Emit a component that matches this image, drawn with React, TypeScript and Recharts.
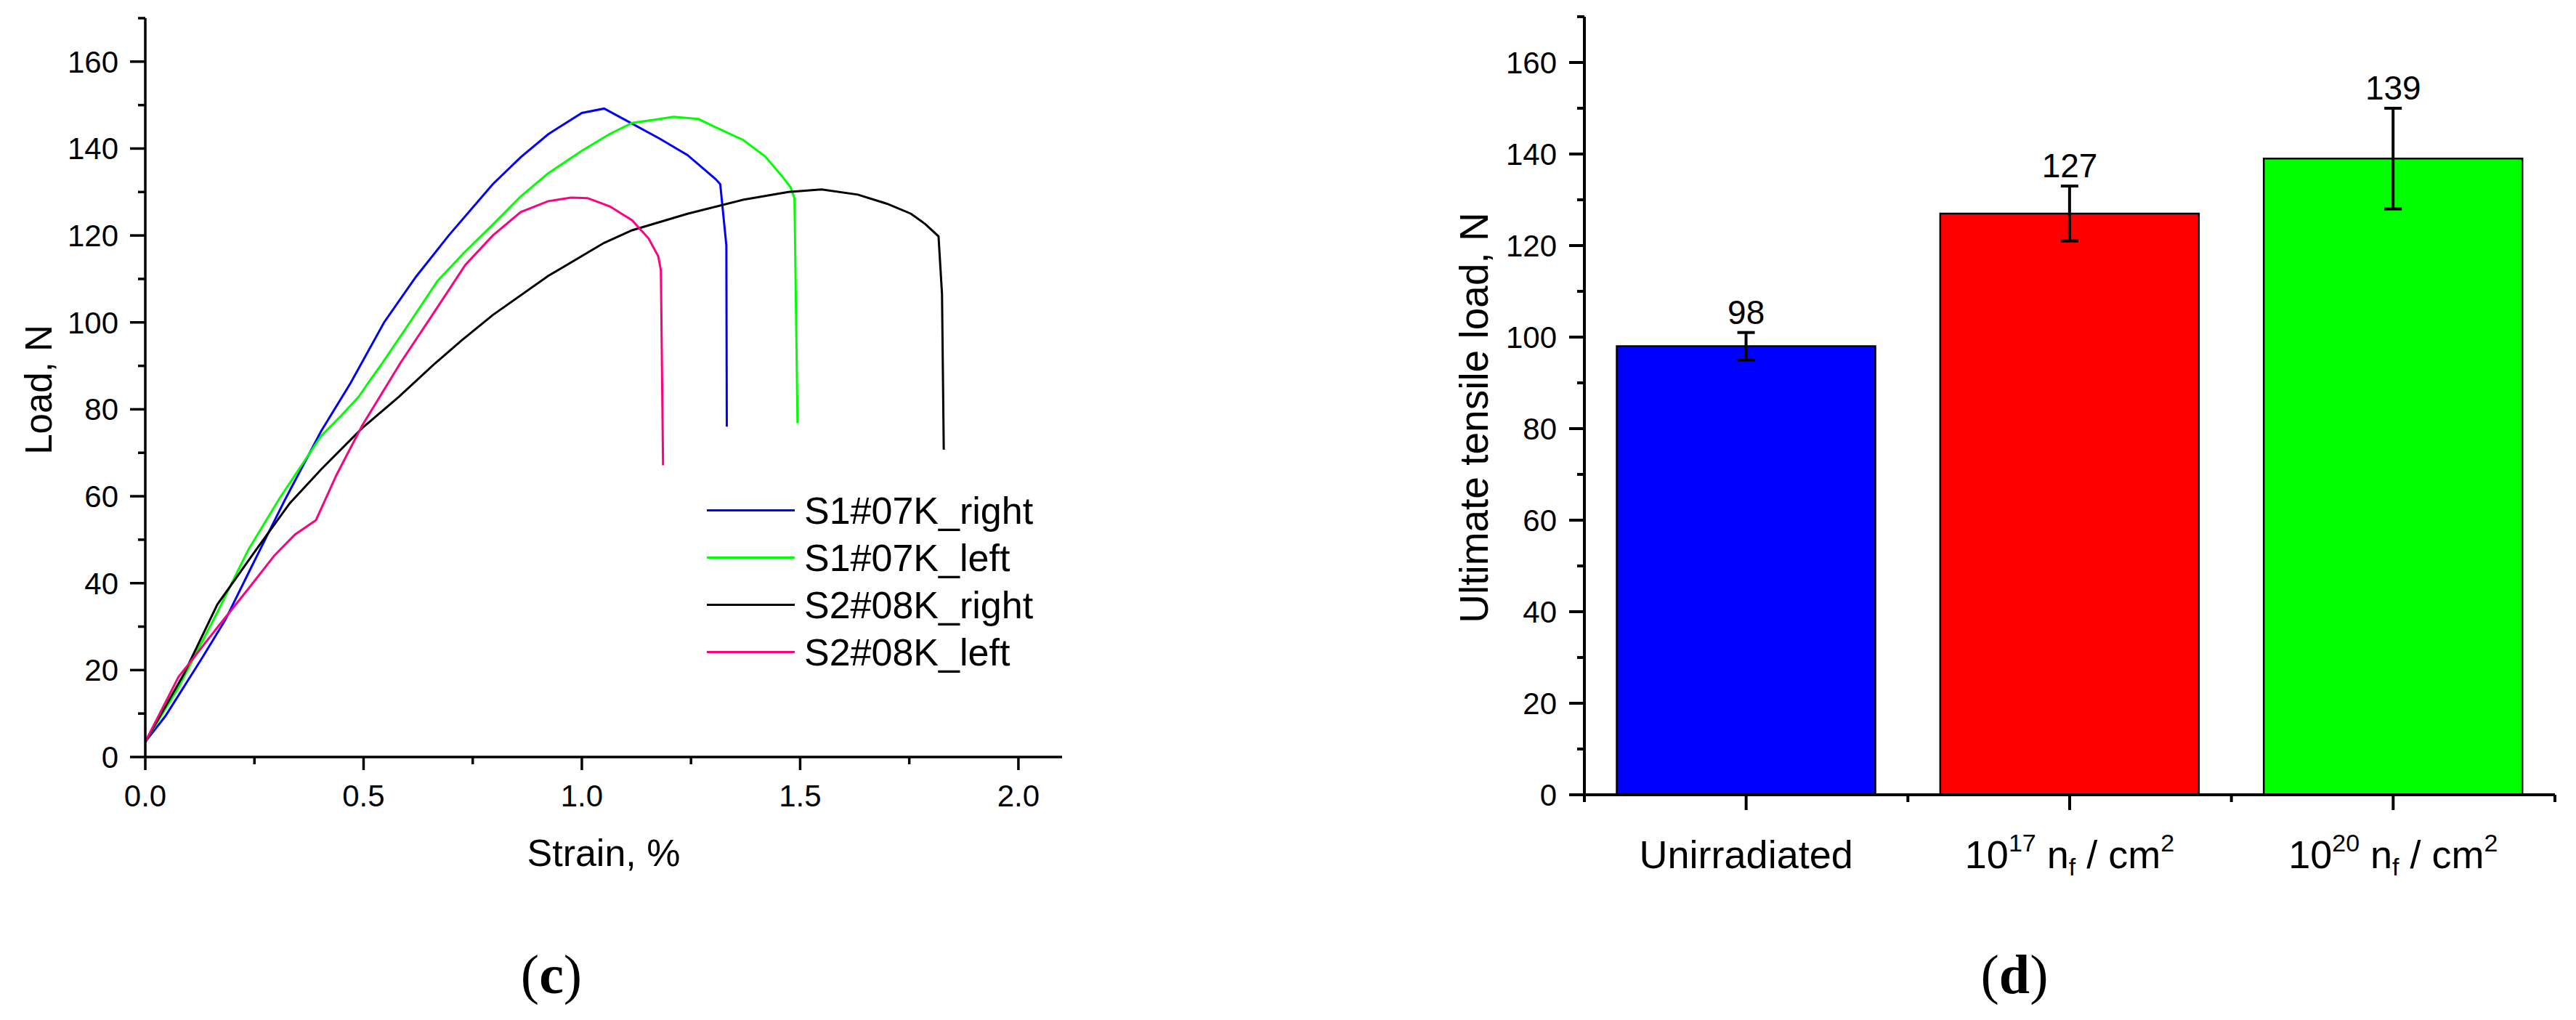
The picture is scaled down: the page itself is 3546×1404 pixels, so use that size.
import { LineChart, Line, XAxis, YAxis, Legend, ComposedChart, Bar, Cell, ErrorBar, LabelList, Label } from 'recharts'

const FONT = '"Liberation Sans", Arial, sans-serif'
const SERIF = '"Liberation Serif", "Times New Roman", serif'

// panel (c): [strain %, load N]
const s1RightCurve = [
  [0, 3.5], [0.046, 9.4], [0.129, 22.6], [0.183, 31.5], [0.242, 43.5], [0.319, 59], [0.403, 75],
  [0.47, 86], [0.547, 100], [0.62, 110.5], [0.695, 120], [0.796, 131.8], [0.86, 138], [0.923, 143.3],
  [1.0, 148.2], [1.051, 149.2], [1.101, 146.5], [1.178, 142.3], [1.242, 138.5], [1.306, 133],
  [1.317, 131.8], [1.331, 117.7], [1.332, 76],
]
const s1LeftCurve = [
  [0, 3.5], [0.076, 16], [0.165, 33.3], [0.236, 47.7], [0.308, 59.6], [0.403, 73.9], [0.45, 78.7],
  [0.489, 82.9], [0.51, 86], [0.542, 90.5], [0.606, 100], [0.669, 109.5], [0.73, 116], [0.796, 122.5],
  [0.86, 129], [0.923, 134.3], [1.0, 139.5], [1.063, 143.3], [1.115, 145.9], [1.178, 146.8], [1.21, 147.3],
  [1.267, 146.8], [1.306, 144.9], [1.369, 142], [1.42, 138.2], [1.458, 133.7], [1.478, 131.1],
  [1.487, 128.6], [1.494, 76.8],
]
const s2RightCurve = [
  [0, 3.5], [0.088, 19], [0.165, 35.1], [0.254, 47.7], [0.331, 58.4], [0.403, 66.2], [0.497, 75.7],
  [0.581, 82.9], [0.664, 90.6], [0.725, 95.9], [0.796, 101.7], [0.923, 110.7], [1.051, 118.3],
  [1.115, 121.2], [1.242, 125], [1.369, 128.2], [1.473, 130], [1.549, 130.6], [1.632, 129.4],
  [1.699, 127.3], [1.754, 125], [1.787, 122.6], [1.817, 119.8], [1.825, 106.5], [1.829, 70.7],
]
const s2LeftCurve = [
  [0, 3.5], [0.076, 18.4], [0.165, 29.8], [0.236, 38.7], [0.296, 46.4], [0.343, 51.2], [0.391, 54.5],
  [0.438, 64.9], [0.497, 76.3], [0.584, 90.6], [0.666, 103], [0.733, 113.2], [0.796, 120], [0.86, 125.4],
  [0.923, 127.9], [0.975, 128.7], [1.013, 128.6], [1.064, 126.7], [1.115, 123.5], [1.153, 119.3],
  [1.175, 115.2], [1.181, 112], [1.186, 67.1],
]
const curves = [s1RightCurve, s1LeftCurve, s2RightCurve, s2LeftCurve]
const curveNames = ['S1#07K_right', 'S1#07K_left', 'S2#08K_right', 'S2#08K_left']
const curveColors = ['#0000ff', '#00ff00', '#000000', '#ff0080']

const strainTicks = [0, 0.25, 0.5, 0.75, 1, 1.25, 1.5, 1.75, 2]
const loadTicks = [0, 10, 20, 30, 40, 50, 60, 70, 80, 90, 100, 110, 120, 130, 140, 150, 160, 170]

// panel (d)
const categories = ['Unirradiated', '10^17 n_f / cm^2', '10^20 n_f / cm^2']
const utlValues = [98, 127, 139]
const utlErrors = [3, 6, 11]
const barColors = ['#0000ff', '#ff0000', '#00ff00']

const RIGHT_W = 1646
const RIGHT_LEFT = 281
const RIGHT_RIGHT = 29
const RIGHT_BAND = (RIGHT_W - RIGHT_LEFT - RIGHT_RIGHT) / categories.length

const toPoints = (c: number[][]) => c.map(([x, y]) => ({ x, y }))

const LeftYTick = ({ x, y, payload }: any) => {
  const v = payload.value
  const major = v % 20 === 0
  const len = major ? 21 : 10
  return (
    <g>
      <line x1={x} x2={x - len} y1={y} y2={y} stroke="#000" strokeWidth={3.5} />
      {major && (
        <text x={x - 37} y={y} dy="0.355em" textAnchor="end" fontSize={42} fontFamily={FONT} fill="#000">{v}</text>
      )}
    </g>
  )
}

const LeftXTick = ({ x, y, payload }: any) => {
  const v = payload.value
  const major = Math.abs(v * 2 - Math.round(v * 2)) < 1e-6
  const len = major ? 18 : 10
  return (
    <g>
      <line x1={x} x2={x} y1={y} y2={y + len} stroke="#000" strokeWidth={3.5} />
      {major && (
        <text x={x} y={y + 68} textAnchor="middle" fontSize={42} fontFamily={FONT} fill="#000">{v.toFixed(1)}</text>
      )}
    </g>
  )
}

const RightYTick = ({ x, y, payload }: any) => {
  const v = payload.value
  const major = v % 20 === 0
  const len = major ? 21 : 10
  return (
    <g>
      <line x1={x} x2={x - len} y1={y} y2={y} stroke="#000" strokeWidth={4} />
      {major && (
        <text x={x - 38} y={y} dy="0.355em" textAnchor="end" fontSize={42} fontFamily={FONT} fill="#000">{v}</text>
      )}
    </g>
  )
}

// "10^17 n_f / cm^2" -> tspans with super/subscripts
function richLabel(label: string) {
  const parts = label.split(/(\^\d+|_\w)/).filter(Boolean)
  let shift = 0
  return parts.map((p, i) => {
    let target = 0
    let text = p
    let size = 54
    if (p.startsWith('^')) { target = -23; text = p.slice(1); size = 34 }
    else if (p.startsWith('_')) { target = 10; text = p.slice(1); size = 34 }
    const dy = target - shift
    shift = target
    return <tspan key={i} dy={dy} fontSize={size}>{text}</tspan>
  })
}

const CategoryTick = ({ x, y, payload, index }: any) => {
  const half = RIGHT_BAND / 2
  return (
    <g>
      <line x1={x} x2={x} y1={y} y2={y + 21} stroke="#000" strokeWidth={4} />
      <line x1={x - half} x2={x - half} y1={y} y2={y + 10} stroke="#000" strokeWidth={4} />
      {index === categories.length - 1 && (
        <line x1={x + half} x2={x + half} y1={y} y2={y + 10} stroke="#000" strokeWidth={4} />
      )}
      <text x={x} y={y + 101} textAnchor="middle" fontSize={54} fontFamily={FONT} fill="#000">
        {richLabel(payload.value)}
      </text>
    </g>
  )
}

// legend keeps the series order of the plot
const renderLegend = () => (
  <div style={{ fontFamily: FONT, fontSize: 52, color: '#000' }}>
    {curveNames.map((name, i) => (
      <div key={name} style={{ display: 'flex', alignItems: 'center', height: 65 }}>
        <span style={{ width: 121, height: 0, borderTop: `3px solid ${curveColors[i]}`, marginRight: 13 }} />
        <span style={{ whiteSpace: 'nowrap' }}>{name}</span>
      </div>
    ))}
  </div>
)

const strainLabel = ({ viewBox }: any) => {
  const vb = viewBox || { x: 200, y: 1042, width: 1262 }
  return (
    <g>
      <text x={vb.x + vb.width / 2} y={vb.y + 150} textAnchor="middle" fontSize={52} fontFamily={FONT} fill="#000">Strain, %</text>
      <text x={vb.x + 559} y={vb.y + 325} textAnchor="middle" fontSize={76} fontFamily={SERIF} fill="#000">
        (<tspan fontWeight="bold">c</tspan>)
      </text>
    </g>
  )
}

const loadLabel = ({ viewBox }: any) => {
  const vb = viewBox || { x: 0, y: 25, height: 1017 }
  const cx = vb.x + 53
  const cy = vb.y + vb.height / 2 + 3
  return (
    <text x={cx} y={cy} dy="0.355em" transform={`rotate(-90 ${cx} ${cy})`} textAnchor="middle" fontSize={51} fontFamily={FONT} fill="#000">
      Load, N
    </text>
  )
}

const groupLabel = ({ viewBox }: any) => {
  const vb = viewBox || { x: 281, y: 1094 }
  return (
    <text x={vb.x + 592} y={vb.y + 273} textAnchor="middle" fontSize={76} fontFamily={SERIF} fill="#000">
      (<tspan fontWeight="bold">d</tspan>)
    </text>
  )
}

const utlLabel = ({ viewBox }: any) => {
  const vb = viewBox || { x: 0, y: 23 }
  const cx = vb.x + 128
  const cy = 575
  return (
    <text x={cx} y={cy} dy="0.355em" transform={`rotate(-90 ${cx} ${cy})`} textAnchor="middle" fontSize={55} fontFamily={FONT} fill="#000">
      Ultimate tensile load, N
    </text>
  )
}

function CurvesChart() {
  return (
    <LineChart width={1500} height={1404} margin={{ top: 25, right: 38, left: 0, bottom: 0 }}>
      <XAxis
        type="number"
        dataKey="x"
        domain={[0, 2.1]}
        ticks={strainTicks}
        interval={0}
        height={362}
        tickSize={0}
        tickMargin={0}
        tickLine={false}
        axisLine={{ stroke: '#000', strokeWidth: 3.5 }}
        tick={LeftXTick}
      >
        <Label content={strainLabel} />
      </XAxis>
      <YAxis
        type="number"
        domain={[0, 170]}
        ticks={loadTicks}
        interval={0}
        width={200}
        tickSize={0}
        tickMargin={0}
        tickLine={false}
        axisLine={{ stroke: '#000', strokeWidth: 3.5 }}
        tick={LeftYTick}
      >
        <Label content={loadLabel} />
      </YAxis>
      {curves.map((c, i) => (
        <Line
          key={curveNames[i]}
          data={toPoints(c)}
          dataKey="y"
          name={curveNames[i]}
          type="linear"
          stroke={curveColors[i]}
          strokeWidth={3}
          dot={false}
          activeDot={false}
          isAnimationActive={false}
        />
      ))}
      <Legend
        layout="vertical"
        align="center"
        verticalAlign="middle"
        content={renderLegend}
        wrapperStyle={{ left: 973, top: 670, width: 480 }}
      />
    </LineChart>
  )
}

function StrengthChart() {
  const rows = categories.map((name, i) => ({
    name,
    value: utlValues[i],
    err: utlErrors[i],
    top: utlValues[i] + utlErrors[i],
  }))
  return (
    <ComposedChart
      width={RIGHT_W}
      height={1404}
      data={rows}
      margin={{ top: 23, right: RIGHT_RIGHT, left: 0, bottom: 0 }}
      barCategoryGap="10%"
    >
      <XAxis
        dataKey="name"
        height={310}
        interval={0}
        tickSize={0}
        tickMargin={0}
        tickLine={false}
        axisLine={{ stroke: '#000', strokeWidth: 4 }}
        tick={CategoryTick}
      >
        <Label content={groupLabel} />
      </XAxis>
      <YAxis
        type="number"
        domain={[0, 170]}
        ticks={loadTicks}
        interval={0}
        width={RIGHT_LEFT}
        tickSize={0}
        tickMargin={0}
        tickLine={false}
        axisLine={{ stroke: '#000', strokeWidth: 4 }}
        tick={RightYTick}
      >
        <Label content={utlLabel} />
      </YAxis>
      <Bar dataKey="value" stroke="#000" strokeWidth={2.5} isAnimationActive={false}>
        {rows.map((r, i) => (
          <Cell key={r.name} fill={barColors[i]} />
        ))}
        <ErrorBar dataKey="err" width={12} stroke="#000" strokeWidth={4} direction="y" />
      </Bar>
      <Line dataKey="top" stroke="none" dot={false} activeDot={false} legendType="none" isAnimationActive={false}>
        <LabelList dataKey="value" position="top" offset={12} fontSize={46} fontFamily={FONT} fill="#000" />
      </Line>
    </ComposedChart>
  )
}

export default function App() {
  return (
    <div style={{ position: 'absolute', left: 0, top: 0, width: 3546, height: 1404, background: '#fff', overflow: 'hidden' }}>
      <div style={{ position: 'absolute', left: 0, top: 0 }}>
        <CurvesChart />
      </div>
      <div style={{ position: 'absolute', left: 1900, top: 0 }}>
        <StrengthChart />
      </div>
    </div>
  )
}
